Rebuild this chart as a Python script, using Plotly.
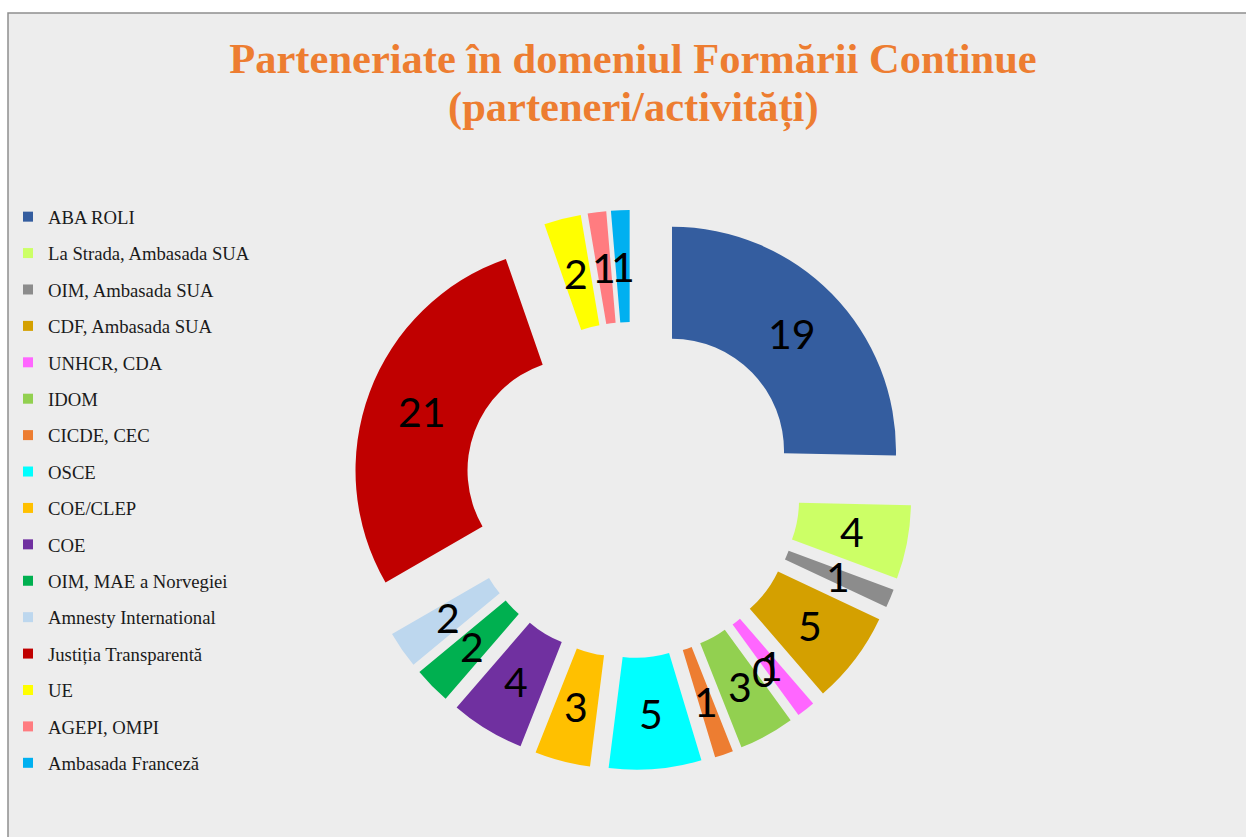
import math
import plotly.graph_objects as go

# ---- data ----
categories = ["ABA ROLI", "La Strada, Ambasada SUA", "OIM, Ambasada SUA", "CDF, Ambasada SUA",
              "UNHCR, CDA", "", "IDOM", "CICDE, CEC", "OSCE", "COE/CLEP", "COE",
              "OIM, MAE a Norvegiei", "Amnesty International", "Justiția Transparentă",
              "UE", "AGEPI, OMPI", "Ambasada Franceză"]
values = [19, 4, 1, 5, 1, 0, 3, 1, 5, 3, 4, 2, 2, 21, 2, 1, 1]
colors = ["#345D9F", "#CCFF66", "#8C8C8C", "#D4A000", "#FF66FF", "#FFFFFF", "#92D050", "#ED7D31",
          "#00FFFF", "#FFC000", "#7030A0", "#00B050", "#BDD7EE", "#C00000", "#FFFF00",
          "#FF7C80", "#00B0F0"]
title_line1 = "Parteneriate în domeniul Formării Continue"
title_line2 = "(parteneri/activități)"

W, H = 1246, 837
HOLE = 0.5
PULL = 0.25

# pie domain in pixels
px_x = [352, 912]
px_y = [210, 770]
dom_x = [px_x[0] / W, px_x[1] / W]
dom_y = [1 - px_y[1] / H, 1 - px_y[0] / H]

shown = [(c, v, col) for c, v, col in zip(categories, values, colors) if v > 0]

fig = go.Figure()
fig.add_trace(go.Pie(
    labels=[s[0] for s in shown],
    values=[s[1] for s in shown],
    marker=dict(colors=[s[2] for s in shown], line=dict(width=0)),
    hole=HOLE, pull=PULL, sort=False, direction="clockwise", rotation=0,
    textinfo="none", showlegend=False, domain=dict(x=dom_x, y=dom_y),
    hovertemplate="%{label}: %{value}<extra></extra>",
))

# legend entries
for c, v, col in shown:
    fig.add_trace(go.Scatterpolar(
        r=[None], theta=[None], mode="markers", name=c, legendgroup=c,
        marker=dict(symbol="square", size=10, color=col), showlegend=True,
        hoverinfo="skip",
    ))

# data labels: centred in each exploded ring segment (same geometry as plotly's pie)
total = sum(values)
cx = (px_x[0] + px_x[1]) / 2
cy = (px_y[0] + px_y[1]) / 2
R = min(px_x[1] - px_x[0], px_y[1] - px_y[0]) / (2 + 2 * PULL)
rl = R * (PULL + (1 + HOLE) / 2)
annotations = []
cum = 0
for v in values:
    ang = math.radians((cum + v / 2) / total * 360)
    cum += v
    x = cx + rl * math.sin(ang)
    y = cy - rl * math.cos(ang)
    annotations.append(dict(x=x / W, y=1 - y / H, xref="paper", yref="paper",
                            text=str(v), showarrow=False, xanchor="center", yanchor="middle",
                            font=dict(family="Lato", size=41, color="#000000")))

annotations.append(dict(x=633 / W, y=1 - 107 / H, xref="paper", yref="paper",
                        text=title_line2, showarrow=False, xanchor="center", yanchor="middle",
                        font=dict(family="Liberation Serif", size=42.5, color="#ED7D31",
                                  weight="bold")))

fig.update_layout(
    width=W, height=H,
    margin=dict(l=0, r=0, t=0, b=0),
    paper_bgcolor="#FFFFFF",
    polar=dict(
        domain=dict(x=dom_x, y=dom_y),
        bgcolor="rgba(0,0,0,0)",
        radialaxis=dict(range=[0, 1 + PULL], visible=False),
        angularaxis=dict(rotation=90, direction="clockwise", visible=False),
    ),
    title=dict(text=title_line1, x=633 / W, xanchor="center", y=1 - 58 / H, yanchor="middle",
               yref="container",
               font=dict(family="Liberation Serif", size=42.5, color="#ED7D31", weight="bold")),
    legend=dict(x=8 / W, xanchor="left", y=1 - 198 / H, yanchor="top",
                font=dict(family="Liberation Serif", size=18.7, color="#1A1A1A"),
                tracegroupgap=9.1, bgcolor="rgba(0,0,0,0)", traceorder="grouped"),
    annotations=annotations,
    shapes=[dict(type="rect", xref="paper", yref="paper", x0=8 / W, x1=1.02, y0=-0.02,
                 y1=1 - 13 / H, fillcolor="#EDEDED", line=dict(color="#8E8E8E", width=1.5),
                 layer="below")],
)

fig.write_html("out.html", config={"displayModeBar": False},
               post_script="document.body.style.margin='0';document.body.style.overflow='hidden';")
